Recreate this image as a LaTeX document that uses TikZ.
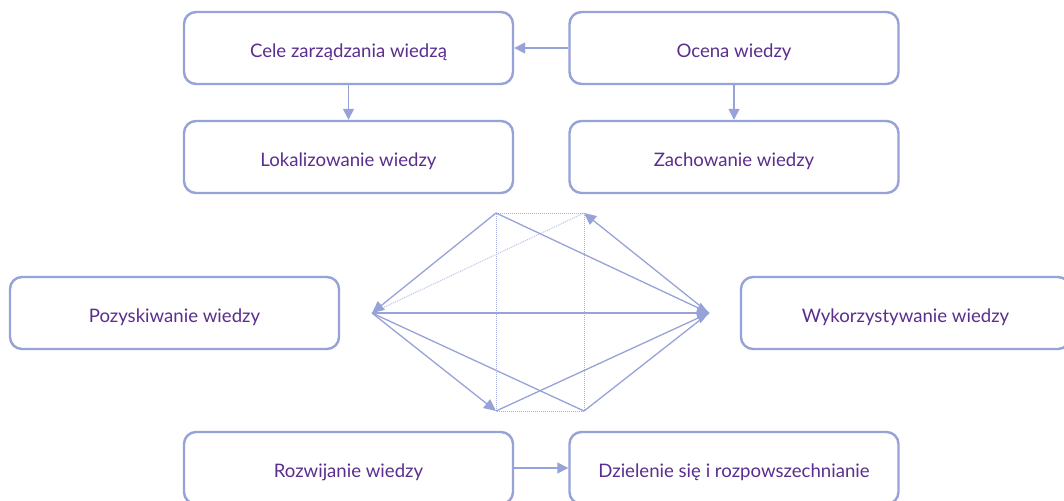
\documentclass[tikz,border=0pt]{standalone}
\usepackage{fontspec}
\setmainfont{Lato}
\usetikzlibrary{arrows.meta}
\definecolor{edge}{HTML}{97A2D8}
\definecolor{ink}{HTML}{5A2E8E}
\begin{document}
\begin{tikzpicture}[x=1pt,y=-1pt,
  box/.style={draw=edge, line width=2.4pt, rounded corners=12pt, fill=white,
    minimum width=329pt, minimum height=72pt, inner sep=0pt,
    text height=19pt, text depth=0pt,
    text=ink, font=\fontsize{18.6}{21}\selectfont},
  link/.style={draw=edge, line width=1.4pt, -{Triangle[length=11pt,width=11pt]}},
  ray/.style={draw=edge, line width=1.3pt},
  tip/.style={-{Triangle[length=12pt,width=11pt]}},
  dots/.style={draw=edge!85, line width=1pt, dash pattern=on 1pt off 1pt}]
\useasboundingbox (0,0) rectangle (1064,500);
\clip (0,0) rectangle (1064,500);

% process boxes
\node[box] (goals)  at (348.5,48)  {Cele zarządzania wiedzą};
\node[box] (assess) at (734,48)    {Ocena wiedzy};
\node[box] (locate) at (348.5,157) {Lokalizowanie wiedzy};
\node[box] (keep)   at (734,157)   {Zachowanie wiedzy};
\node[box] (acq)    at (174.5,313) {Pozyskiwanie wiedzy};
\node[box] (use)    at (905.5,313) {Wykorzystywanie wiedzy};
\node[box] (dev)    at (348.5,468) {Rozwijanie wiedzy};
\node[box] (share)  at (734,468)   {Dzielenie się i rozpowszechnianie};

% arrows between boxes
\draw[link] (assess.west) -- (goals.east);
\draw[link] (goals.south) -- (locate.north);
\draw[link] (assess.south) -- (keep.north);
\draw[link] (dev.east) -- (share.west);

% central hexagon of flows
\coordinate (L)  at (372,313);
\coordinate (R)  at (709,313);
\coordinate (TL) at (496,213);
\coordinate (TR) at (584,213);
\coordinate (BL) at (496,411);
\coordinate (BR) at (584,411);

% dotted frame
\draw[dots] (TL) -- (TR) -- (BR) -- (BL) -- cycle;
\draw[dots, draw=edge!65] (TR) -- (L);

% solid flows
\draw[ray, tip] (TL) -- (L);
\draw[ray, tip] (TL) -- (R);
\draw[ray, tip] (R) -- (TR);
\draw[ray, line width=2pt, tip] (L) -- (R);
\draw[ray, tip] (L) -- (BL);
\draw[ray] (L) -- (BR);
\draw[ray, tip] (BL) -- (R);
\draw[ray] (BR) -- (R);
\end{tikzpicture}
\end{document}
